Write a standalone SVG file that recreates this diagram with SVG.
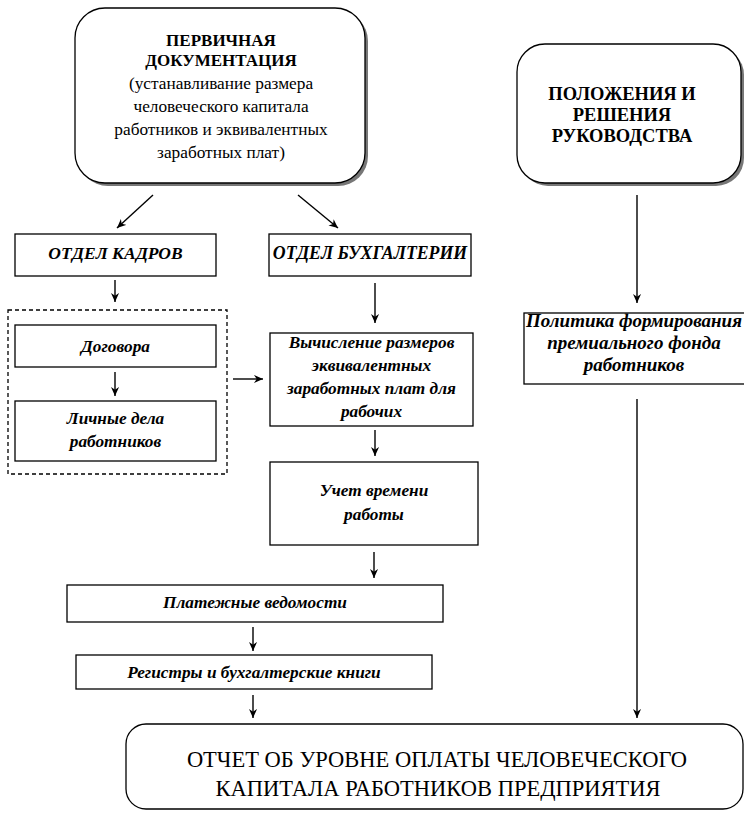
<svg xmlns="http://www.w3.org/2000/svg" width="744" height="813" viewBox="0 0 744 813">
<defs>
<style>
.box{fill:#fff;stroke:#000;stroke-width:1.3}
.shadow{fill:#777;stroke:none}
.dash{fill:none;stroke:#000;stroke-width:1.3;stroke-dasharray:4 3}
text{font-family:"Liberation Serif","Times New Roman",serif;text-anchor:middle}
.bi{font-weight:bold;font-style:italic;font-size:17.3px}
.pol{font-weight:bold;font-style:italic;font-size:19px}
.b{font-weight:bold;font-size:17px}
.b2{font-weight:bold;font-size:18.5px}
.r{font-size:17.3px}
.big{font-size:22.5px}
.conn line{stroke:#000;stroke-width:1.4;marker-end:url(#ah)}
</style>
<marker id="ah" viewBox="0 0 10 10" refX="10" refY="5" markerWidth="9" markerHeight="9" markerUnits="userSpaceOnUse" orient="auto">
<path d="M0,0.5 L10,5 L0,9.5 L3,5 z" fill="#000"/>
</marker>
</defs>
<rect width="744" height="813" fill="#fff"/>

<g id="primary">
<rect class="shadow" x="78" y="11" width="290" height="175" rx="30"/>
<rect class="box" x="75" y="8" width="290" height="175" rx="30"/>
<text class="b" x="221" y="46">ПЕРВИЧНАЯ</text>
<text class="b" x="221" y="66">ДОКУМЕНТАЦИЯ</text>
<text class="r" x="221" y="89">(устанавливание размера</text>
<text class="r" x="221" y="112">человеческого капитала</text>
<text class="r" x="221" y="135">работников и эквивалентных</text>
<text class="r" x="221" y="158">заработных плат)</text>
</g>

<g id="management">
<rect class="shadow" x="520" y="47" width="224" height="139" rx="28"/>
<rect class="box" x="517" y="44" width="224" height="139" rx="28"/>
<text class="b2" x="622" y="100">ПОЛОЖЕНИЯ И</text>
<text class="b2" x="622" y="121">РЕШЕНИЯ</text>
<text class="b2" x="622" y="142">РУКОВОДСТВА</text>
</g>

<g id="hr">
<rect class="box" x="15" y="234" width="201" height="42"/>
<text class="bi" x="115.5" y="259" style="font-size:17.5px">ОТДЕЛ КАДРОВ</text>
</g>

<g id="accounting">
<rect class="box" x="269" y="234" width="202" height="42"/>
<text class="bi" x="370" y="259" style="font-size:17.8px">ОТДЕЛ БУХГАЛТЕРИИ</text>
</g>

<g id="hr-docs">
<rect class="dash" x="8" y="310" width="219" height="164"/>
</g>

<g id="contracts">
<rect class="box" x="15" y="325" width="201" height="42"/>
<text class="bi" x="115.5" y="352">Договора</text>
</g>

<g id="personal-files">
<rect class="box" x="15" y="401" width="201" height="60"/>
<text class="bi" x="115.5" y="424">Личные дела</text>
<text class="bi" x="115.5" y="447">работников</text>
</g>

<g id="calculation">
<rect class="box" x="270" y="333" width="203" height="93"/>
<text class="bi" x="371.5" y="348">Вычисление размеров</text>
<text class="bi" x="371.5" y="371">эквивалентных</text>
<text class="bi" x="371.5" y="394">заработных плат для</text>
<text class="bi" x="371.5" y="417">рабочих</text>
</g>

<g id="time">
<rect class="box" x="270" y="462" width="208" height="83"/>
<text class="bi" x="374" y="496">Учет времени</text>
<text class="bi" x="374" y="520">работы</text>
</g>

<g id="policy">
<rect class="box" x="524" y="313" width="222" height="71"/>
<text class="pol" x="634" y="327">Политика формирования</text>
<text class="pol" x="634" y="349">премиального фонда</text>
<text class="pol" x="634" y="371">работников</text>
</g>

<g id="payroll">
<rect class="box" x="67" y="585" width="376" height="37"/>
<text class="bi" x="255" y="608">Платежные ведомости</text>
</g>

<g id="registers">
<rect class="box" x="76" y="655" width="356" height="34"/>
<text class="bi" x="254" y="678">Регистры и бухгалтерские книги</text>
</g>

<g id="report">
<rect class="box" x="126" y="724" width="617" height="85" rx="20"/>
<text class="big" x="437" y="767">ОТЧЕТ ОБ УРОВНЕ ОПЛАТЫ ЧЕЛОВЕЧЕСКОГО</text>
<text class="big" x="438" y="796">КАПИТАЛА РАБОТНИКОВ ПРЕДПРИЯТИЯ</text>
</g>

<g id="connectors" class="conn">
<line x1="153" y1="195" x2="117" y2="228"/>
<line x1="298" y1="195" x2="338" y2="228"/>
<line x1="115" y1="280" x2="115" y2="302"/>
<line x1="375" y1="283" x2="375" y2="323"/>
<line x1="115" y1="372" x2="115" y2="396"/>
<line x1="233" y1="379" x2="263" y2="379"/>
<line x1="375" y1="430" x2="375" y2="456"/>
<line x1="374" y1="552" x2="374" y2="578"/>
<line x1="253" y1="627" x2="253" y2="651"/>
<line x1="253" y1="695" x2="253" y2="718"/>
<line x1="637" y1="195" x2="637" y2="303"/>
<line x1="637" y1="399" x2="637" y2="718"/>
</g>
</svg>
